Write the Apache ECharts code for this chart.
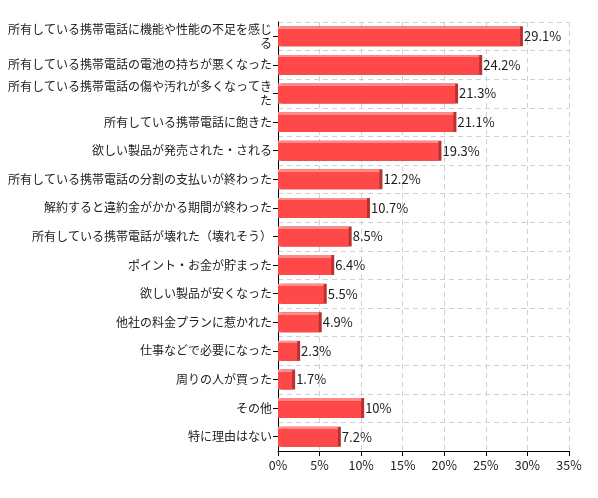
<!DOCTYPE html>
<html>
<head>
<meta charset="utf-8">
<script src="https://cdn.jsdelivr.net/npm/echarts@6/dist/echarts.min.js"></script>
<style>
  html, body { margin: 0; padding: 0; background: #fff; }
  #chart { width: 598px; height: 498px; }
</style>
</head>
<body>
<div id="chart"></div>
<script>
const categories = [
  "所有している携帯電話に機能や性能の不足を感じる",
  "所有している携帯電話の電池の持ちが悪くなった",
  "所有している携帯電話の傷や汚れが多くなってきた",
  "所有している携帯電話に飽きた",
  "欲しい製品が発売された・される",
  "所有している携帯電話の分割の支払いが終わった",
  "解約すると違約金がかかる期間が終わった",
  "所有している携帯電話が壊れた（壊れそう）",
  "ポイント・お金が貯まった",
  "欲しい製品が安くなった",
  "他社の料金プランに惹かれた",
  "仕事などで必要になった",
  "周りの人が買った",
  "その他",
  "特に理由はない"
];

const values = [29.1, 24.2, 21.3, 21.1, 19.3, 12.2, 10.7, 8.5, 6.4, 5.5, 4.9, 2.3, 1.7, 10, 7.2];

const xTicks = [0, 5, 10, 15, 20, 25, 30, 35];

const getOption = () => {
  return {
    animation: false,
    textStyle: { fontFamily: "'Noto Sans CJK JP', 'Noto Sans', sans-serif" },
    grid: {
      left: 278,
      right: 29,
      top: 22,
      bottom: 47,
    },
    xAxis: {
      type: "value",
      min: xTicks[0],
      max: xTicks[xTicks.length - 1],
      interval: 5,
      axisLine: { show: true, lineStyle: { color: "#000" } },
      axisTick: { show: true, length: 5, lineStyle: { color: "#000" } },
      axisLabel: {
        color: "#222",
        fontSize: 12.5,
        formatter: "{value}%",
      },
      splitLine: {
        show: true,
        lineStyle: { color: "#d0d0d0", type: [5, 4] },
      },
    },
    yAxis: {
      type: "category",
      inverse: true,
      data: categories,
      axisLine: { show: true, lineStyle: { color: "#000" } },
      axisTick: { show: true, alignWithLabel: true, length: 5, lineStyle: { color: "#000" } },
      axisLabel: {
        color: "#222",
        fontSize: 12,
        width: 266,
        overflow: "break",
        lineHeight: 14,
        align: "right",
        margin: 6,
      },
      splitLine: {
        show: true,
        lineStyle: { color: "#d0d0d0", type: [5, 4] },
      },
    },
    series: [
      {
        type: "bar",
        data: values,
        barWidth: "70%",
        itemStyle: {
          color: {
            type: "linear",
            x: 0, y: 0, x2: 0, y2: 1,
            colorStops: [
              { offset: 0, color: "#ff8a8a" },
              { offset: 0.12, color: "#ff8a8a" },
              { offset: 0.13, color: "#ff4848" },
              { offset: 1, color: "#ff4848" },
            ],
          },
          shadowColor: "#b83232",
          shadowOffsetX: 3,
          shadowOffsetY: 0,
          shadowBlur: 0,
        },
        label: {
          show: true,
          position: "right",
          distance: 4,
          color: "#222",
          fontSize: 13,
          formatter: "{c}%",
        },
      },
    ],
  };
};

window.addEventListener("load", () => {
  const chart = echarts.init(document.getElementById("chart"));
  chart.setOption(getOption());
});
</script>
</body>
</html>
